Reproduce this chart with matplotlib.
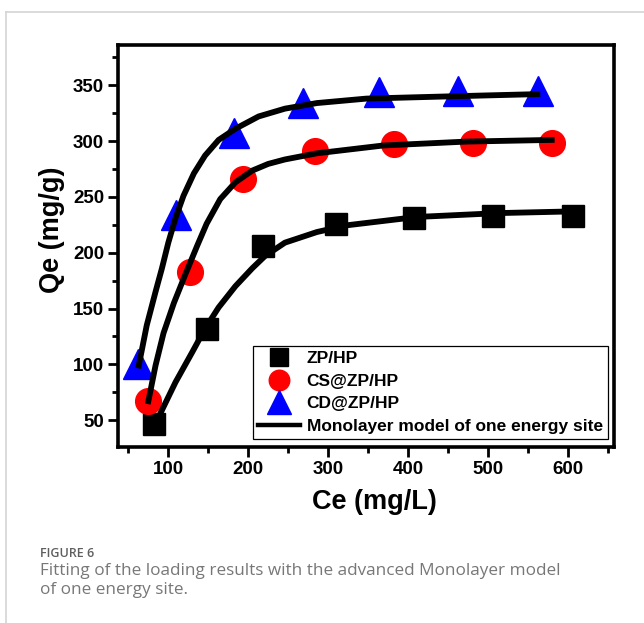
import matplotlib
matplotlib.use("Agg")
import matplotlib.pyplot as plt
from matplotlib.lines import Line2D
from matplotlib.ticker import MultipleLocator

# measured points
ce_zp = [82, 148, 218, 310, 408, 507, 607]
qe_zp = [47, 132, 206, 226, 231, 233, 233]
ce_cs = [74, 127, 194, 284, 382, 481, 580]
qe_cs = [67, 183, 266, 291, 297, 298, 298]
ce_cd = [62, 109, 182, 268, 364, 463, 563]
qe_cd = [100, 234, 307, 334, 344, 345, 345]

# fitted curves
fit_ce_zp = [90, 109, 130, 146, 163, 184, 205, 221, 246, 286, 323, 411, 515, 607]
fit_qe_zp = [56, 84, 111, 132, 151, 170, 186, 197, 209, 218.5, 224.5, 232, 235.5, 237]
fit_ce_cs = [75, 84, 94, 107, 121, 136, 148, 165, 184, 205, 225, 246, 286, 369, 473, 580]
fit_qe_cs = [67, 99, 128, 155, 180, 206, 226, 248, 263, 273.5, 279.5, 283.5, 289, 296, 299.5, 301]
fit_ce_cd = [63, 73, 84, 92, 100, 109, 119, 132, 146, 163, 184, 213, 246, 286, 348, 452, 562]
fit_qe_cd = [99, 135, 165, 186, 209, 231, 251, 271, 287, 301, 311, 322, 329, 334, 338, 340, 342]

labels = ["ZP/HP", "CS@ZP/HP", "CD@ZP/HP", "Monolayer model of one energy site"]

plt.rcParams["font.family"] = ["Liberation Sans", "DejaVu Sans"]
plt.rcParams["font.weight"] = "bold"

fig = plt.figure(figsize=(6.44, 6.23), dpi=100)
ax = fig.add_axes([118 / 644, 1 - 447 / 623, 496 / 644, 402 / 623])

ax.plot(ce_zp, qe_zp, "s", ms=16.5, color="black", ls="none", zorder=2, label=labels[0])
ax.plot(ce_cs, qe_cs, "o", ms=18.5, color="#ff0000", ls="none", zorder=2, label=labels[1])
ax.plot(ce_cd, qe_cd, "^", ms=21, color="#0000ff", ls="none", zorder=2, label=labels[2])
for x, y in [(fit_ce_zp, fit_qe_zp), (fit_ce_cs, fit_qe_cs), (fit_ce_cd, fit_qe_cd)]:
    ax.plot(x, y, color="black", lw=4.2, solid_joinstyle="round", zorder=3)
ax.plot([], [], color="black", lw=3.2, label=labels[3])

ax.set_xlim(37, 658)
ax.set_ylim(26, 386)
ax.xaxis.set_major_locator(MultipleLocator(100))
ax.xaxis.set_minor_locator(MultipleLocator(50))
ax.yaxis.set_major_locator(MultipleLocator(50))
ax.yaxis.set_minor_locator(MultipleLocator(25))
ax.set_yticks([50, 100, 150, 200, 250, 300, 350])

for spine in ax.spines.values():
    spine.set_linewidth(2.6)
ax.tick_params(which="major", direction="out", length=7, width=2, labelsize=13.5, pad=3)
ax.tick_params(which="minor", direction="out", length=4.5, width=2)
for t in ax.get_xticklabels() + ax.get_yticklabels():
    t.set_fontweight("bold")

ax.set_xlabel("Ce (mg/L)", fontsize=19.5, fontweight="bold")
ax.set_ylabel("Qe (mg/g)", fontsize=19.5, fontweight="bold")
ax.xaxis.set_label_coords(0.518, -0.105)
ax.yaxis.set_label_coords(-0.107, 0.54)

leg = ax.legend(loc="lower right", bbox_to_anchor=(0.988, 0.02), borderaxespad=0,
                prop={"weight": "bold", "size": 12.5},
                fancybox=False, framealpha=1, edgecolor="black", markerscale=0.8,
                labelspacing=0.42, handlelength=2.4, handletextpad=0.4,
                borderpad=0.3)
leg.get_frame().set_linewidth(0.9)

# page frame lines
fig.add_artist(Line2D([6 / 644, 1], [1 - 12 / 623, 1 - 12 / 623], color="#d4d4d4", lw=1.2))
fig.add_artist(Line2D([6 / 644, 6 / 644], [0, 1 - 12 / 623], color="#d4d4d4", lw=1.2))

cap_font = ["Open Sans", "DejaVu Sans"]
fig.text(40 / 644, 1 - 557 / 623, "FIGURE 6", fontsize=9, color="#5f5f5f",
         family=cap_font, fontweight="semibold", va="baseline")
fig.text(40 / 644, 1 - 575 / 623,
         "Fitting of the loading results with the advanced Monolayer model",
         fontsize=12.3, color="#777777", family=cap_font,
         fontweight="normal", va="baseline")
fig.text(40 / 644, 1 - 594 / 623, "of one energy site.",
         fontsize=12.3, color="#777777", family=cap_font,
         fontweight="normal", va="baseline")

fig.savefig("out.png", dpi=100, facecolor="white")
plt.close(fig)
